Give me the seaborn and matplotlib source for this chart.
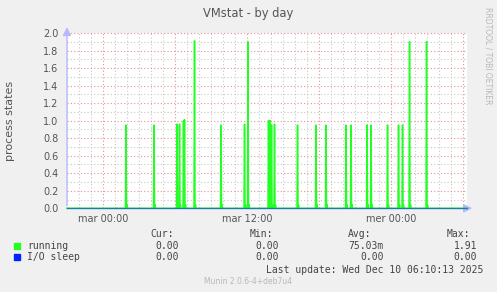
import numpy as np
import pandas as pd
import matplotlib
matplotlib.use("Agg")
import matplotlib.pyplot as plt
from matplotlib.patches import Rectangle
import seaborn as sns

# ---- data (hours relative to "mar 00:00") ----
spike_hours = [1.89, 4.22, 6.12, 6.33, 6.67, 6.75, 7.58, 9.81, 11.75, 12.06,
               13.75, 13.89, 14.03, 14.25, 16.17, 17.72, 18.56, 20.22, 20.64,
               21.97, 22.31, 23.67, 24.58, 24.92, 25.50, 26.92]
spike_values = [0.95, 0.95, 0.96, 0.96, 1.00, 1.01, 1.91, 0.95, 0.96, 1.90,
                1.00, 1.00, 0.95, 0.96, 0.95, 0.95, 0.95, 0.95, 0.95,
                0.95, 0.95, 0.95, 0.95, 0.95, 1.90, 1.90]
tail_value = 0.04
x_start, x_end = -3.03, 30.30
tick_pos = [0, 12, 24]
tick_labels = ["mar 00:00", "mar 12:00", "mer 00:00"]
legend_names = ["running", "I/O sleep"]
legend_cur = ["0.00", "0.00"]
legend_min = ["0.00", "0.00"]
legend_avg = ["75.03m", "0.00"]
legend_max = ["1.91", "0.00"]
colors = ["#22ff22", "#0022ff"]

# ---- build sampled series ----
step = 2.5 / 60
n = int(round((x_end - x_start) / step)) + 1
t = x_start + np.arange(n) * step
running = np.zeros_like(t)
for h, v in zip(spike_hours, spike_values):
    i = int(round((h - x_start) / step))
    running[i] = max(running[i], v)
for h in spike_hours:
    i = int(round((h - x_start) / step)) + 2
    if running[i] == 0:
        running[i] = tail_value
iosleep = np.zeros_like(t)
df = pd.DataFrame({"t": t, "running": running, "iosleep": iosleep})

# ---- figure ----
W, H = 497, 292
fig = plt.figure(figsize=(W / 100, H / 100), dpi=100, facecolor="#f0f0f0")
L, R, T, B = 67, 467, 33, 208.3
ax = fig.add_axes([L / W, 1 - B / H, (R - L) / W, (B - T) / H])
ax.set_facecolor("white")

sns.lineplot(data=df, x="t", y="running", ax=ax, color=colors[0], lw=1.1,
             clip_on=False, zorder=4)
sns.lineplot(data=df, x="t", y="iosleep", ax=ax, color=colors[1], lw=1.0,
             alpha=0.55, clip_on=False, zorder=5)

ax.set_xlim(x_start, x_end)
ax.set_ylim(0, 2.0)

# grid
minor_kw = dict(color="#c8c8c8", lw=0.8, ls=(0, (1, 2)), zorder=1)
major_kw = dict(color="#e89090", lw=0.8, ls=(0, (1, 2)), zorder=2)
for hh in range(-3, 31):
    if hh % 6 == 0:
        ax.axvline(hh, **major_kw)
    else:
        ax.axvline(hh, **minor_kw)
for k in range(1, 21):
    y = k / 10
    if k % 2 == 0:
        ax.axhline(y, clip_on=False, **major_kw)
    else:
        ax.axhline(y, **minor_kw)

for s in ax.spines.values():
    s.set_visible(False)

ax.set_xticks(tick_pos)
ax.set_xticklabels(tick_labels)
ax.set_yticks([k / 5 for k in range(11)])
ax.set_yticklabels([f"{k / 5:.1f}" for k in range(11)])
ax.tick_params(length=0, labelsize=7, colors="#555555", pad=6)
ax.tick_params(axis="x", pad=4)
ax.set_xlabel("")
ax.set_ylabel("")

# axes arrows (lavender)
ax.annotate("", xy=(0, 1.05), xytext=(0, 0), xycoords="axes fraction",
            arrowprops=dict(arrowstyle="-|>,head_width=0.25,head_length=0.5",
                            color="#b8b8ff", lw=1.0), annotation_clip=False)
ax.annotate("", xy=(1.02, 0), xytext=(0.99, 0), xycoords="axes fraction",
            arrowprops=dict(arrowstyle="-|>,head_width=0.25,head_length=0.5",
                            color="#b8b8ff", lw=1.0), annotation_clip=False)

def fx(x):
    return x / W

def fy(y):
    return 1 - y / H

fig.text(fx(248), fy(14), "VMstat - by day", ha="center", va="center",
         fontsize=8.3, color="#555555")
fig.text(fx(10), fy(121), "process states", ha="center", va="center",
         rotation=90, fontsize=8, color="#555555")
fig.text(fx(488), fy(56), "RRDTOOL / TOBI OETIKER", ha="center", va="center",
         rotation=270, fontsize=5.5, color="#b8b8b8")

mono = dict(family="DejaVu Sans Mono", fontsize=7, color="#444444", va="center")
fig.text(fx(150), fy(234), "Cur:", ha="left", **mono)
fig.text(fx(250), fy(234), "Min:", ha="left", **mono)
fig.text(fx(348), fy(234), "Avg:", ha="left", **mono)
fig.text(fx(447), fy(234), "Max:", ha="left", **mono)
rows_y = [245.7, 257.3]
for i in range(2):
    y = rows_y[i]
    fig.patches.append(Rectangle((fx(14), fy(y + 3)), 6 / W, 6 / H,
                                 transform=fig.transFigure, color=colors[i],
                                 figure=fig))
    fig.text(fx(27), fy(y), legend_names[i], ha="left", **mono)
    fig.text(fx(179), fy(y), legend_cur[i], ha="right", **mono)
    fig.text(fx(279), fy(y), legend_min[i], ha="right", **mono)
    fig.text(fx(384), fy(y), legend_avg[i], ha="right", **mono)
    fig.text(fx(477), fy(y), legend_max[i], ha="right", **mono)
fig.text(fx(483), fy(270), "Last update: Wed Dec 10 06:10:13 2025", ha="right", **mono)
fig.text(fx(248), fy(282), "Munin 2.0.6-4+deb7u4", ha="center", va="center",
         fontsize=5.5, color="#b8b8b8")

fig.savefig("out.png", dpi=100, facecolor=fig.get_facecolor())
